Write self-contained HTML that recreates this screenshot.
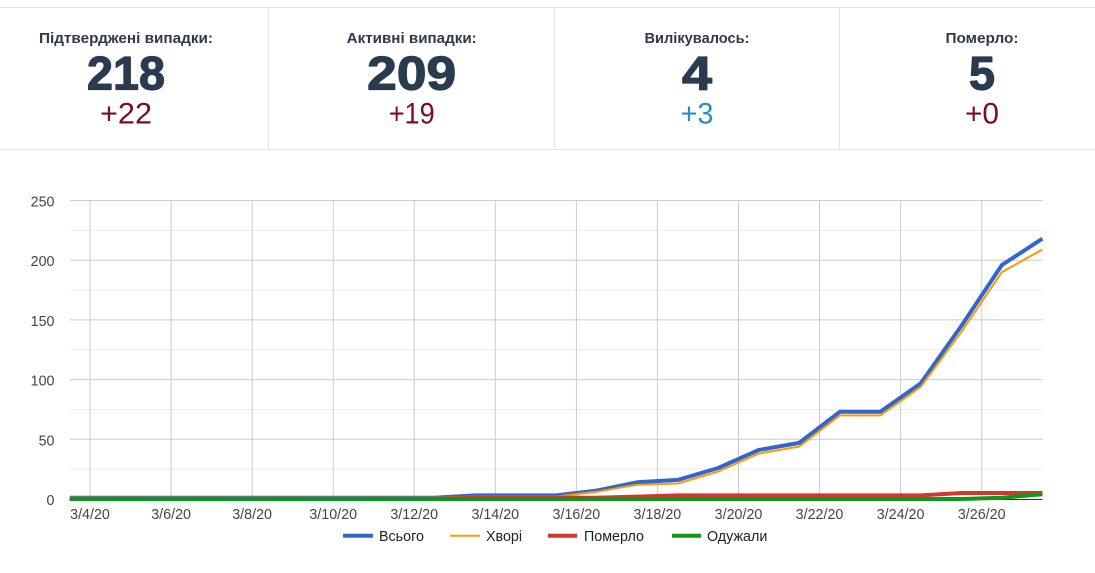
<!DOCTYPE html>
<html><head><meta charset="utf-8"><style>
html,body{margin:0;padding:0;background:#fff;}
svg{display:block;}
</style></head><body>
<svg width="1095" height="573" viewBox="0 0 1095 573" xmlns="http://www.w3.org/2000/svg">
<rect width="1095" height="573" fill="#fff"/>
<!-- header borders -->
<line x1="0" y1="7.5" x2="1095" y2="7.5" stroke="#e3e3e3" stroke-width="1"/>
<line x1="0" y1="149.5" x2="1095" y2="149.5" stroke="#e3e3e3" stroke-width="1"/>
<line x1="268.5" y1="8" x2="268.5" y2="149" stroke="#e3e3e3" stroke-width="1"/>
<line x1="554.5" y1="8" x2="554.5" y2="149" stroke="#e3e3e3" stroke-width="1"/>
<line x1="839.5" y1="8" x2="839.5" y2="149" stroke="#e3e3e3" stroke-width="1"/>
<g font-family="Liberation Sans, Arial, sans-serif" text-anchor="middle">
<g font-size="14.5" font-weight="bold" fill="#2f3a48">
<text x="126" y="43" textLength="174" lengthAdjust="spacingAndGlyphs">Підтверджені випадки:</text>
<text x="411.7" y="43" textLength="130" lengthAdjust="spacingAndGlyphs">Активні випадки:</text>
<text x="697" y="43" textLength="105" lengthAdjust="spacingAndGlyphs">Вилікувалось:</text>
<text x="982" y="43" textLength="73" lengthAdjust="spacingAndGlyphs">Померло:</text>
</g>
<g font-size="47" font-weight="bold" fill="#2b3b4f" stroke="#2b3b4f" stroke-width="1.2" stroke-linejoin="round">
<text x="126" y="89.5" textLength="78" lengthAdjust="spacingAndGlyphs">218</text>
<text x="411.7" y="89.5" textLength="89" lengthAdjust="spacingAndGlyphs">209</text>
<text x="697" y="89.5" textLength="30" lengthAdjust="spacingAndGlyphs">4</text>
<text x="982" y="89.5" textLength="26" lengthAdjust="spacingAndGlyphs">5</text>
</g>
<g font-size="30">
<text x="126" y="123.3" fill="#7d0a23" textLength="52" lengthAdjust="spacingAndGlyphs">+22</text>
<text x="411.7" y="123.3" fill="#7d0a23" textLength="46" lengthAdjust="spacingAndGlyphs">+19</text>
<text x="697" y="123.3" fill="#2a8ccf" textLength="33" lengthAdjust="spacingAndGlyphs">+3</text>
<text x="982" y="123.3" fill="#7d0a23" textLength="34" lengthAdjust="spacingAndGlyphs">+0</text>
</g>
</g>

<!-- chart gridlines -->
<g stroke="#ebebeb" stroke-width="1">
<line x1="70" y1="230.35" x2="1042.5" y2="230.35"/>
<line x1="70" y1="290.05" x2="1042.5" y2="290.05"/>
<line x1="70" y1="349.75" x2="1042.5" y2="349.75"/>
<line x1="70" y1="409.45" x2="1042.5" y2="409.45"/>
<line x1="70" y1="469.15" x2="1042.5" y2="469.15"/>
</g>
<g stroke="#cccccc" stroke-width="1">
<line x1="70" y1="200.5" x2="1042.5" y2="200.5"/>
<line x1="70" y1="260.2" x2="1042.5" y2="260.2"/>
<line x1="70" y1="319.9" x2="1042.5" y2="319.9"/>
<line x1="70" y1="379.6" x2="1042.5" y2="379.6"/>
<line x1="70" y1="439.3" x2="1042.5" y2="439.3"/>
<line x1="90" y1="200" x2="90" y2="499"/>
<line x1="171.1" y1="200" x2="171.1" y2="499"/>
<line x1="252.1" y1="200" x2="252.1" y2="499"/>
<line x1="333.2" y1="200" x2="333.2" y2="499"/>
<line x1="414.2" y1="200" x2="414.2" y2="499"/>
<line x1="495.3" y1="200" x2="495.3" y2="499"/>
<line x1="576.4" y1="200" x2="576.4" y2="499"/>
<line x1="657.4" y1="200" x2="657.4" y2="499"/>
<line x1="738.5" y1="200" x2="738.5" y2="499"/>
<line x1="819.5" y1="200" x2="819.5" y2="499"/>
<line x1="900.6" y1="200" x2="900.6" y2="499"/>
<line x1="981.7" y1="200" x2="981.7" y2="499"/>
</g>
<line x1="70" y1="499.5" x2="1042.5" y2="499.5" stroke="#333" stroke-width="1"/>

<!-- series -->
<g fill="none" stroke-linejoin="round">
<polyline stroke="#3366cc" stroke-width="4" points="69.7,497.8 110.2,497.8 150.8,497.8 191.3,497.8 231.8,497.8 272.4,497.8 312.9,497.8 353.4,497.8 393.9,497.8 434.5,497.8 475.0,495.4 515.5,495.4 556.1,495.4 596.6,490.6 637.1,482.3 677.7,479.9 718.2,468.0 758.7,450.0 799.2,442.9 839.8,411.8 880.3,411.8 920.8,383.2 961.4,325.9 1001.9,265.0 1042.4,238.7"/>
<polyline stroke="#ff9900" stroke-width="2" points="69.7,497.8 110.2,497.8 150.8,497.8 191.3,497.8 231.8,497.8 272.4,497.8 312.9,497.8 353.4,497.8 393.9,497.8 434.5,497.8 475.0,496.6 515.5,496.6 556.1,496.6 596.6,491.8 637.1,484.7 677.7,483.5 718.2,471.5 758.7,453.6 799.2,446.5 839.8,415.4 880.3,415.4 920.8,386.8 961.4,331.8 1001.9,272.1 1042.4,249.5"/>
<polyline stroke="#d0372e" stroke-width="4" points="69.7,499 110.2,499 150.8,499 191.3,499 231.8,499 272.4,499 312.9,499 353.4,499 393.9,499 434.5,499 475.0,497.8 515.5,497.8 556.1,497.8 596.6,497.8 637.1,496.6 677.7,495.4 718.2,495.4 758.7,495.4 799.2,495.4 839.8,495.4 880.3,495.4 920.8,495.4 961.4,493.0 1001.9,493.0 1042.4,493.0"/>
<polyline stroke="#109618" stroke-width="4" points="69.7,499 110.2,499 150.8,499 191.3,499 231.8,499 272.4,499 312.9,499 353.4,499 393.9,499 434.5,499 475.0,499 515.5,499 556.1,499 596.6,499 637.1,499 677.7,499 718.2,499 758.7,499 799.2,499 839.8,499 880.3,499 920.8,499 961.4,499 1001.9,497.8 1042.4,494.2"/>
</g>

<!-- axis labels -->
<g font-family="Liberation Sans, Arial, sans-serif" font-size="14.3" fill="#444">
<g text-anchor="end">
<text x="54.5" y="206.5">250</text>
<text x="54.5" y="266.2">200</text>
<text x="54.5" y="325.9">150</text>
<text x="54.5" y="385.6">100</text>
<text x="54.5" y="445.3">50</text>
<text x="54.5" y="505">0</text>
</g>
<g text-anchor="middle">
<text x="90" y="519">3/4/20</text>
<text x="171.1" y="519">3/6/20</text>
<text x="252.1" y="519">3/8/20</text>
<text x="333.2" y="519">3/10/20</text>
<text x="414.2" y="519">3/12/20</text>
<text x="495.3" y="519">3/14/20</text>
<text x="576.4" y="519">3/16/20</text>
<text x="657.4" y="519">3/18/20</text>
<text x="738.5" y="519">3/20/20</text>
<text x="819.5" y="519">3/22/20</text>
<text x="900.6" y="519">3/24/20</text>
<text x="981.7" y="519">3/26/20</text>
</g>
</g>

<!-- legend -->
<line x1="343" y1="535.7" x2="373" y2="535.7" stroke="#3366cc" stroke-width="4"/>
<line x1="450" y1="535.7" x2="480" y2="535.7" stroke="#ff9900" stroke-width="2"/>
<line x1="548" y1="535.7" x2="577" y2="535.7" stroke="#d0372e" stroke-width="4"/>
<line x1="672" y1="535.7" x2="701" y2="535.7" stroke="#109618" stroke-width="4"/>
<g font-family="Liberation Sans, Arial, sans-serif" font-size="14.3" fill="#222">
<text x="379" y="541">Всього</text>
<text x="486" y="541">Хворі</text>
<text x="584" y="541">Померло</text>
<text x="707" y="541">Одужали</text>
</g>
</svg>
</body></html>
